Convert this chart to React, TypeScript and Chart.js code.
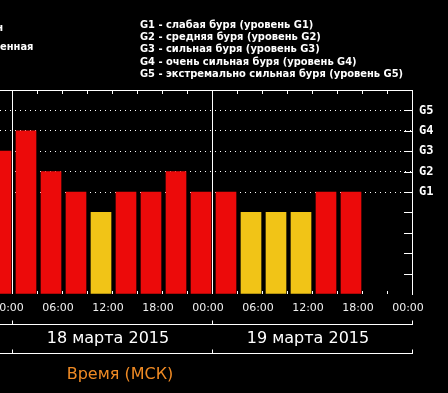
import React, { useEffect, useRef } from 'react';
import { Chart, registerables } from 'chart.js';

Chart.register(...registerables);

// Hours relative to 18 March 2015 00:00 MSK (start of each 3-hour slot)
const slotStartHours = [-3, 0, 3, 6, 9, 12, 15, 18, 21, 24, 27, 30, 33, 36, 39];
// Kp index per slot
const kpValues = [7, 8, 6, 5, 4, 5, 5, 6, 5, 5, 4, 4, 4, 5, 5];

const levelValues = [5, 6, 7, 8, 9];
const levelLabels = ['G1', 'G2', 'G3', 'G4', 'G5'];

const dayStartHours = [0, 24];
const dayLabels = ['18 марта 2015', '19 марта 2015'];

const legendLines = [
  'G1 - слабая буря (уровень G1)',
  'G2 - средняя буря (уровень G2)',
  'G3 - сильная буря (уровень G3)',
  'G4 - очень сильная буря (уровень G4)',
  'G5 - экстремально сильная буря (уровень G5)',
];
const leftLegendLines = ['н', 'енная'];
const axisTitle = 'Время (МСК)';

const BAR_OFFSET_HOURS = 1.68;
const RED = '#ec0a0a';
const YELLOW = '#f1c417';
const ORANGE = '#ef8a24';
const SANS = '"DejaVu Sans", Verdana, sans-serif';
const COND = '"DejaVu Sans Condensed", "DejaVu Sans", sans-serif';
const MONO = '"DejaVu Sans Mono", monospace';

const decorPlugin = {
  id: 'decor',
  beforeDraw(chart: any) {
    const { ctx, width, height } = chart;
    ctx.save();
    ctx.fillStyle = '#000';
    ctx.fillRect(0, 0, width, height);
    ctx.restore();
  },
  afterDraw(chart: any) {
    const { ctx, chartArea } = chart;
    const xs = chart.scales.x;
    const ys = chart.scales.y;
    const { left, right, top, bottom } = chartArea;
    ctx.save();
    ctx.strokeStyle = '#fff';
    ctx.lineWidth = 1;

    // top border
    ctx.beginPath();
    ctx.moveTo(left, Math.round(top) + 0.5);
    ctx.lineTo(right + 1, Math.round(top) + 0.5);
    ctx.stroke();

    // 3-hour ticks top and bottom
    for (let h = -3; h <= 48; h += 3) {
      const px = Math.round(xs.getPixelForValue(h)) + 0.5;
      if (px < left || px > right) continue;
      ctx.beginPath();
      ctx.moveTo(px, top);
      ctx.lineTo(px, top + 4);
      ctx.moveTo(px, bottom);
      ctx.lineTo(px, bottom - 3);
      ctx.stroke();
    }

    // inward ticks on right axis
    for (let v = 1; v <= 9; v++) {
      const py = Math.round(ys.getPixelForValue(v)) + 0.5;
      ctx.beginPath();
      ctx.moveTo(right - 8, py);
      ctx.lineTo(right, py);
      ctx.stroke();
    }

    // lower bracket lines
    const lineYs = [324.5, 353.5];
    lineYs.forEach((ly) => {
      ctx.beginPath();
      ctx.moveTo(left, ly);
      ctx.lineTo(right + 1, ly);
      ctx.stroke();
      [0, 24, 48].forEach((h) => {
        const px = Math.round(xs.getPixelForValue(h)) + 0.5;
        ctx.beginPath();
        ctx.moveTo(px, ly);
        ctx.lineTo(px, ly - 4);
        ctx.stroke();
      });
    });

    // day labels
    ctx.fillStyle = '#fff';
    ctx.font = `16px ${SANS}`;
    ctx.textAlign = 'center';
    ctx.textBaseline = 'middle';
    dayLabels.forEach((lbl, i) => {
      const cx = xs.getPixelForValue(dayStartHours[i] + 12) - 4;
      ctx.fillText(lbl, cx, 339);
    });

    // axis title
    ctx.fillStyle = ORANGE;
    ctx.fillText(axisTitle, 120, 375);

    // legends
    ctx.fillStyle = '#fff';
    ctx.font = `bold 11px ${COND}`;
    ctx.textAlign = 'left';
    legendLines.forEach((l, i) => {
      ctx.fillText(l, 140, 25 + i * 12.3);
    });
    ctx.textAlign = 'right';
    ctx.fillText(leftLegendLines[0], 3, 28.5);
    ctx.textAlign = 'left';
    ctx.fillText(leftLegendLines[1], 0, 47);

    ctx.restore();
  },
};

const timeLabel = (v: number) => {
  const h = ((v % 24) + 24) % 24;
  return String(h).padStart(2, '0') + ':00';
};

export default function App() {
  const ref = useRef<HTMLCanvasElement>(null);

  useEffect(() => {
    if (!ref.current) return;
    const data = slotStartHours.map((h, i) => ({ x: h + BAR_OFFSET_HOURS, y: kpValues[i] }));
    const chart = new Chart(ref.current, {
      type: 'bar',
      data: {
        datasets: [
          {
            data,
            backgroundColor: (c: any) => {
              const v = c.raw ? c.raw.y : 0;
              return v >= 5 ? RED : v === 4 ? YELLOW : '#2bb52b';
            },
            borderWidth: 0,
            barThickness: 20,
          } as any,
        ],
      },
      options: {
        animation: false,
        responsive: false,
        devicePixelRatio: 1,
        layout: { padding: { top: 90, left: 0, right: 0, bottom: 0 } },
        plugins: {
          legend: { display: false },
          tooltip: { enabled: false },
          title: { display: false },
        },
        scales: {
          x: {
            type: 'linear',
            offset: false,
            min: -1.44,
            max: 48,
            afterFit: (s: any) => {
              s.height = 99;
              s.paddingLeft = 0;
              s.paddingRight = 0;
            },
            ticks: {
              stepSize: 6,
              includeBounds: false,
              autoSkip: false,
              maxRotation: 0,
              minRotation: 0,
              labelOffset: -4,
              padding: 8,
              color: '#f0f0f0',
              font: { family: SANS, size: 11 },
              callback: (v: any) => timeLabel(Number(v)),
            },
            grid: {
              offset: false,
              drawTicks: false,
              lineWidth: 1,
              color: (c: any) =>
                c.tick && c.tick.value % 24 === 0 ? '#ffffff' : 'rgba(0,0,0,0)',
            },
            border: { display: false },
          },
          y: {
            type: 'linear',
            position: 'right',
            min: 0,
            max: 10,
            afterFit: (s: any) => {
              s.width = 36;
            },
            ticks: {
              stepSize: 1,
              autoSkip: false,
              padding: 7,
              color: '#ffffff',
              font: { family: MONO, size: 12, weight: 'bold' },
              callback: (v: any) => {
                const idx = levelValues.indexOf(Number(v));
                return idx >= 0 ? levelLabels[idx] : '';
              },
            },
            grid: {
              drawTicks: false,
              lineWidth: 1,
              color: (c: any) =>
                c.tick && levelValues.indexOf(c.tick.value) >= 0
                  ? '#ffffff'
                  : 'rgba(0,0,0,0)',
            },
            border: { display: true, color: '#ffffff', width: 1, dash: [1, 4] },
          },
        },
      } as any,
      plugins: [decorPlugin],
    });
    return () => chart.destroy();
  }, []);

  return (
    <div
      style={{
        position: 'fixed',
        left: 0,
        top: 0,
        width: 448,
        height: 393,
        background: '#000',
        overflow: 'hidden',
      }}
    >
      <canvas ref={ref} width={448} height={393} style={{ display: 'block' }} />
    </div>
  );
}
